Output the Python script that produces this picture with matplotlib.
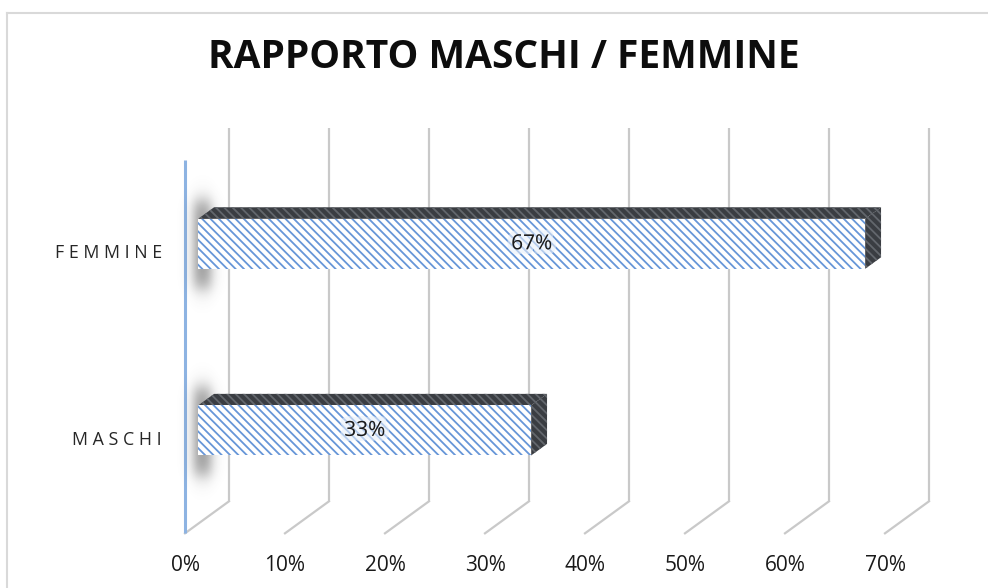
import numpy as np
import matplotlib
matplotlib.use('Agg')  # no display
import matplotlib.pyplot as plt
from matplotlib.patches import Polygon
from matplotlib.lines import Line2D
import matplotlib.patheffects as pe

# data
categories = ['MASCHI', 'FEMMINE']
values = [33.3, 66.7]
ticks = [0, 10, 20, 30, 40, 50, 60, 70]
tick_labels = ['0%', '10%', '20%', '30%', '40%', '50%', '60%', '70%']
title = 'RAPPORTO MASCHI / FEMMINE'

plt.rcParams['font.family'] = ['Open Sans', 'DejaVu Sans']
plt.rcParams['hatch.linewidth'] = 1.3

# fake 3d look: depth vector in data units, bar sits between depth F0..F1
DX, DY = 4.4, 0.1715
F0, F1 = 0.30, 0.66
HALF = 0.134
Y_LO, Y_HI = -0.5, 1.5


def proj(x, y, d):
    return (x + DX * d, y + DY * d)


def soft_box(xs, ys, x0, x1, y0, y1, sx, sy):
    # smooth edged box used as blurred shadow alpha
    fx = 1 / (1 + np.exp(-(xs - x0) / sx)) * 1 / (1 + np.exp((xs - x1) / sx))
    fy = 1 / (1 + np.exp(-(ys - y0) / sy)) * 1 / (1 + np.exp((ys - y1) / sy))
    return np.outer(fy, fx)


fig = plt.figure(figsize=(9.88, 5.88), dpi=100)
ax = fig.add_axes([0, 0, 1, 1])
ax.axis('off')

# outer chart border (light gray, runs off the right/bottom edges)
fig.add_artist(Line2D([7 / 988, 1.0], [1 - 13 / 588] * 2, color='#d9d9d9', lw=1.5,
                      transform=fig.transFigure))
fig.add_artist(Line2D([7 / 988] * 2, [0.0, 1 - 13 / 588], color='#d9d9d9', lw=1.5,
                      transform=fig.transFigure))

# back wall gridlines + floor diagonals
for t in ticks:
    bx, by0 = proj(t, Y_LO, 1)
    _, by1 = proj(t, Y_HI, 1)
    ax.plot([bx, bx], [by0, by1], color='#c9c9c9', lw=1.6, solid_capstyle='butt', zorder=1)
    ax.plot([t, bx], [Y_LO, by0], color='#c9c9c9', lw=1.6, zorder=1)

# front value axis line
ax.plot([0, 0], [Y_LO, Y_HI], color='#8db3e2', lw=2.2, zorder=2, solid_capstyle='butt')

for t, lab in zip(ticks, tick_labels):
    ax.text(t, -0.67, lab, ha='center', va='center', fontsize=15, color='#1a1a1a')

for i, (cat, v) in enumerate(zip(categories, values)):
    # soft blurred shadow at the left end of the bar
    xs = np.linspace(-1.5, 5.0, 80)
    ys = np.linspace(i - 0.45, i + 0.5, 190)
    a = 0.6 * soft_box(xs, ys, 0.9, 2.6, i - 0.19, i + 0.28, 0.35, 0.028)
    rgba = np.zeros((len(ys), len(xs), 4))
    rgba[..., :3] = 0.3
    rgba[..., 3] = a
    ax.imshow(rgba, extent=(xs[0], xs[-1], ys[0], ys[-1]), origin='lower',
              aspect='auto', interpolation='bilinear', zorder=2)

    lo, hi = i - HALF, i + HALF
    front = [proj(0, lo, F0), proj(v, lo, F0), proj(v, hi, F0), proj(0, hi, F0)]
    top = [proj(0, hi, F0), proj(v, hi, F0), proj(v, hi, F1), proj(0, hi, F1)]
    side = [proj(v, lo, F0), proj(v, lo, F1), proj(v, hi, F1), proj(v, hi, F0)]

    for poly in (top, side):
        ax.add_patch(Polygon(poly, closed=True, facecolor='#3a3d42', edgecolor='#63676d',
                             hatch='\\\\\\\\', lw=0, zorder=3))
    ax.add_patch(Polygon(front, closed=True, facecolor='white', edgecolor='#6696d8',
                         hatch='\\\\\\\\', lw=0, zorder=4))

    cx, cy = proj(v / 2, i, F0)
    ax.text(cx, cy, f'{v:.0f}%', ha='center', va='center', fontsize=15, color='#1a1a1a',
            zorder=6, path_effects=[pe.withStroke(linewidth=7, foreground='#e9f0fa', alpha=0.6)])

    ax.text(-2.3, i, ' '.join(cat), ha='right', va='center', fontsize=12.8,
            color='#262626')

ax.set_xlim(-18.5, 80.3)
ax.set_ylim(-0.7931, 2.3580)

fig.text(503.5 / 988, 1 - 57 / 588, title, ha='center', va='center', fontsize=28,
         fontweight='bold', color='#0d0d0d')

fig.savefig('out.png', dpi=100)
